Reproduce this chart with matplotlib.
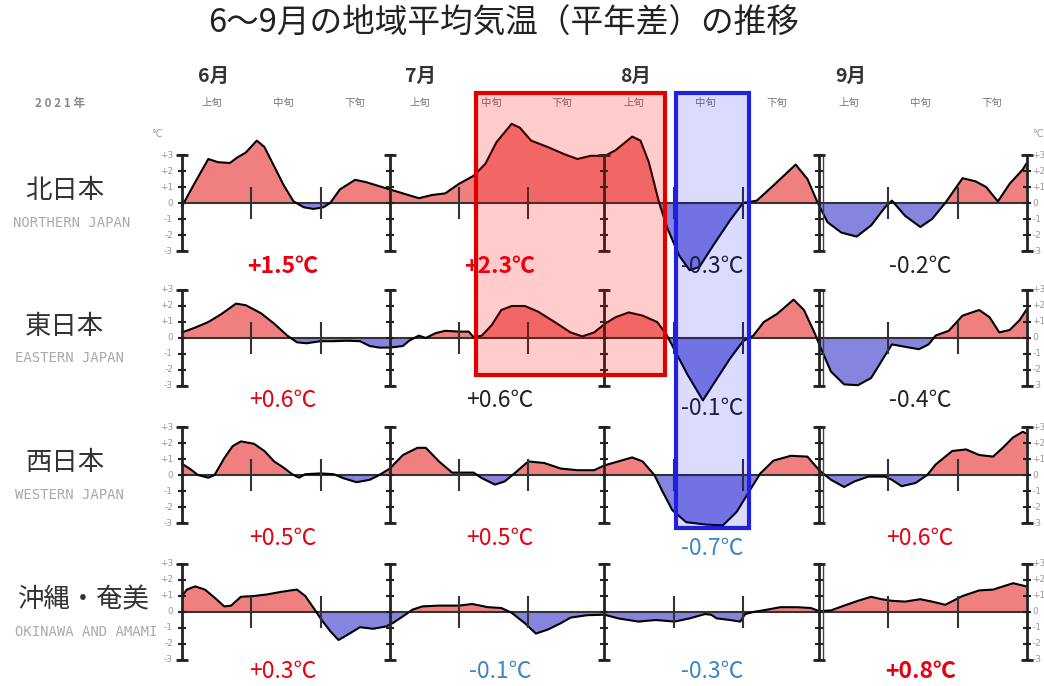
import numpy as np
import matplotlib
matplotlib.use("Agg")
import matplotlib.pyplot as plt
from matplotlib.patches import Rectangle

plt.rcParams['font.family'] = ['Noto Sans CJK JP', 'DejaVu Sans']

# days counted from June 1 (0) to Oct 1 (122)
north_days = [0, 1.9, 3.8, 5.2, 6.9, 8, 9.2, 10.8, 11.9, 13.3,
              14.7, 16.1, 17.6, 19, 20.4, 21.4, 22.8, 25, 26.6, 28.5,
              30, 31.9, 34.2, 36.1, 38, 40, 42.1, 43.8, 45.4, 47.6,
              48.8, 50.4, 52.8, 55.2, 57.1, 59, 61.1, 62.6, 65, 66.2,
              67.4, 68.9, 70.1, 71.8, 73.3, 74.7, 76.7, 79.1, 81, 83,
              85.4, 88.6, 90.3, 91.8, 93.2, 95.2, 97.4, 99.5, 101.5, 102.5,
              104.4, 106.6, 108.3, 110.2, 112.7, 114.6, 116.1, 117.8, 119.5, 121.4,
              121.9]
north_vals = [-0.2, 1.3, 2.75, 2.55, 2.5, 2.85, 3.15, 3.9, 3.5, 2.3,
              1.1, 0.1, -0.27, -0.37, -0.27, 0, 0.85, 1.45, 1.3, 1.05,
              0.85, 0.6, 0.3, 0.5, 0.6, 1.2, 1.7, 2.45, 3.8, 4.95,
              4.7, 3.9, 3.5, 3.05, 2.75, 2.95, 2.95, 3.3, 4.15, 3.9,
              2.55, 0, -1.6, -3.3, -4.2, -4.0, -2.65, -1.1, 0, 0.15,
              1.1, 2.4, 1.5, 0, -1.2, -1.85, -2.1, -1.4, -0.27, 0.15,
              -0.8, -1.5, -1.0, 0, 1.55, 1.35, 1.0, 0.1, 1.2, 2.1,
              2.45]

east_days = [0, 1.9, 3.8, 5.7, 7.8, 9.2, 11.4, 13.3, 15.2, 16.6,
             18, 20, 21.9, 23.8, 25.7, 27.1, 28.5, 30, 31.9, 32.8,
             34.2, 35.2, 36.6, 38, 40, 41.4, 42.1, 43.3, 44.7, 46.1,
             47.6, 49.5, 51.4, 53.8, 56.1, 57.8, 59.5, 61.1, 62.6, 64.5,
             66.5, 68.6, 69.9, 71.3, 73, 75.2, 76.7, 79.1, 81, 82.5,
             84, 85.9, 88.3, 89.8, 91.3, 92.2, 93.7, 95.6, 97.6, 99.5,
             101, 102.5, 104.4, 106.4, 107.8, 108.8, 110.7, 112.7, 115.1, 116.6,
             118, 119.5, 120.9, 121.9]
east_vals = [0.35, 0.65, 1.0, 1.5, 2.15, 2.05, 1.55, 0.9, 0.15, -0.27,
             -0.33, -0.2, -0.2, -0.17, -0.2, -0.5, -0.6, -0.6, -0.5, -0.17,
             0.15, 0, 0.3, 0.45, 0.4, 0.4, 0.05, 0.15, 0.8, 1.75,
             2.0, 2.0, 1.65, 1.0, 0.35, 0.1, 0.35, 0.9, 1.3, 1.6,
             1.4, 1.0, 0.25, -0.9, -2.3, -3.9, -2.9, -1.3, -0.2, 0.15,
             1.0, 1.5, 2.4, 1.75, 0.35, -0.6, -2.1, -2.9, -2.95, -2.5,
             -1.45, -0.4, -0.55, -0.7, -0.4, 0.15, 0.45, 1.4, 1.75, 1.3,
             0.35, 0.5, 1.1, 1.75]

west_days = [0, 1.1, 2.3, 3.8, 4.7, 6.1, 7.3, 8.5, 10.4, 11.9,
             13.3, 14.7, 15.9, 16.9, 17.8, 20, 21.9, 23.3, 25.2, 27.1,
             28.5, 30, 31.9, 34, 35.2, 37.1, 39, 40.9, 42.1, 43.3,
             45.2, 46.6, 48, 50, 52.3, 54.7, 57.1, 59.5, 61, 63,
             65, 66.5, 68.2, 69.4, 70.8, 72.8, 75.7, 78.1, 80.1, 82,
             83.5, 85.4, 87.9, 90.3, 92, 93.7, 95.6, 97.1, 99.1, 101.5,
             102.5, 103.9, 105.9, 107.6, 108.8, 111.2, 113.2, 115.1, 117.1, 118.5,
             120, 121.4, 121.9]
west_vals = [0.7, 0.4, 0, -0.17, 0, 1.05, 1.8, 2.1, 1.95, 1.5,
             0.85, 0.45, 0.05, -0.17, 0.05, 0.1, 0.05, -0.2, -0.45, -0.3,
             0, 0.4, 1.25, 1.7, 1.7, 0.85, 0.15, 0.15, 0.15, -0.2,
             -0.6, -0.4, 0.1, 0.85, 0.75, 0.4, 0.3, 0.3, 0.6, 0.85,
             1.1, 0.85, 0, -1.05, -2.2, -2.95, -3.1, -3.15, -2.3, -0.95,
             0.1, 0.9, 1.2, 1.15, 0.3, -0.3, -0.75, -0.4, -0.1, -0.1,
             -0.3, -0.7, -0.5, 0, 0.65, 1.5, 1.6, 1.25, 1.15, 1.7,
             2.35, 2.7, 2.6]

okinawa_days = [0, 0.7, 1.9, 3.3, 4.7, 6.1, 7.1, 8.5, 10.4, 12.3,
                14.2, 15.7, 16.6, 17.8, 19, 20, 21.4, 22.6, 23.8, 25.7,
                27.6, 29.5, 30.4, 31.9, 33.3, 34.7, 37.1, 40, 41.9, 44.2,
                46.1, 47.6, 49.5, 51.1, 52.8, 54.7, 56.1, 58.5, 61, 63,
                65.9, 68.4, 71.1, 73.3, 75.5, 76.4, 77.2, 79.1, 80.6, 81.3,
                82.5, 84.5, 86.4, 88.8, 90.8, 92, 93.7, 95.6, 97.6, 99.5,
                101, 102.5, 104.4, 106.6, 108.3, 110.2, 112.7, 115.1, 117.1, 120,
                121.9]
okinawa_vals = [1.0, 1.4, 1.6, 1.4, 0.9, 0.35, 0.4, 0.95, 1.0, 1.1,
                1.25, 1.35, 1.4, 1.0, 0.25, -0.4, -1.2, -1.75, -1.45, -0.95,
                -1.05, -0.9, -0.7, -0.27, 0.15, 0.35, 0.4, 0.4, 0.5, 0.3,
                0.25, -0.05, -0.7, -1.35, -1.1, -0.7, -0.35, -0.2, -0.17, -0.4,
                -0.6, -0.5, -0.6, -0.4, -0.13, -0.17, -0.4, -0.5, -0.6, -0.13,
                0, 0.15, 0.3, 0.3, 0.25, 0.05, 0.1, 0.4, 0.7, 0.95,
                0.8, 0.7, 0.65, 0.8, 0.65, 0.45, 1.0, 1.35, 1.4, 1.8,
                1.6]

region_names = ['北日本', '東日本', '西日本', '沖縄・奄美']
region_names_en = ['NORTHERN JAPAN', 'EASTERN JAPAN', 'WESTERN JAPAN', 'OKINAWA AND AMAMI']
series = [(north_days, north_vals), (east_days, east_vals),
          (west_days, west_vals), (okinawa_days, okinawa_vals)]

month_labels = ['6月', '7月', '8月', '9月']
month_starts = [0, 30, 61, 92, 122]
dekad_bounds = [10, 20, 40, 50, 71, 81, 102, 112]
dekad_names = ['上旬', '中旬', '下旬']

monthly_anom = [['+1.5℃', '+2.3℃', '-0.3℃', '-0.2℃'],
                ['+0.6℃', '+0.6℃', '-0.1℃', '-0.4℃'],
                ['+0.5℃', '+0.5℃', '-0.7℃', '+0.6℃'],
                ['+0.3℃', '-0.1℃', '-0.3℃', '+0.8℃']]

RED = '#e60012'
BLUE = '#3d85c6'
BLK = '#222222'
anom_color = [[RED, RED, BLK, BLK],
              [RED, BLK, BLK, BLK],
              [RED, RED, BLUE, RED],
              [RED, BLUE, BLUE, RED]]
anom_bold = [[True, True, False, False],
             [False, False, False, False],
             [False, False, False, False],
             [False, False, False, True]]
anom_y = [[-3.95, -3.95, -3.95, -3.95],
          [-3.9, -3.9, -4.4, -3.9],
          [-3.95, -3.95, -4.6, -3.95],
          [-3.75, -3.75, -3.75, -3.75]]
anom_x = [14.6, 45.9, 76.5, 106.6]

W, H = 1044, 686
fig = plt.figure(figsize=(W / 100, H / 100), dpi=100)
fig.patch.set_facecolor('white')

px_per_day = 6.926
px_per_deg = 16.0
x0 = 182
xlim = (-x0 / px_per_day, (W - x0) / px_per_day)
row_base = [203, 338, 475, 612]
half = 6.0

axes = []
for i, base in enumerate(row_base):
    bottom = 1 - (base + half * px_per_deg) / H
    ax = fig.add_axes([0, bottom, 1, 2 * half * px_per_deg / H])
    ax.set_xlim(*xlim)
    ax.set_ylim(-half, half)
    ax.axis('off')
    ax.patch.set_alpha(0)
    axes.append(ax)

for i, ax in enumerate(axes):
    d = np.array(series[i][0])
    v = np.array(series[i][1])
    ax.fill_between(d, v, 0, where=v >= 0, interpolate=True, color='#f08080', lw=0, zorder=1)
    ax.fill_between(d, v, 0, where=v <= 0, interpolate=True, color='#8585e0', lw=0, zorder=1)
    ax.hlines(0, 0, 122, color='#333333', lw=1.5, zorder=2)
    ax.plot(d, v, color='black', lw=1.5, zorder=3, solid_joinstyle='round')

    # month axes with degree ticks
    ax.vlines(month_starts, -3, 3, color='#222222', lw=2, zorder=4)
    ax.vlines([92.5], -3, 3, color='#444444', lw=1, zorder=4)
    for m in month_starts:
        ax.plot([m] * 7, np.arange(-3, 4), ls='none', marker='_', ms=6, mew=1.5,
                color='#222222', zorder=4)
        ax.plot([m, m], [-3, 3], ls='none', marker='_', ms=9, mew=2,
                color='#222222', zorder=4)
    ax.vlines(dekad_bounds, -1, 1, color='#333333', lw=1.5, zorder=4)

    for lv in range(-3, 4):
        lab = '0' if lv == 0 else f'{lv:+d}'
        ax.text(-1.3, lv, lab, ha='right', va='center', fontsize=6.5,
                color='#999999', family='DejaVu Sans')
        ax.text(122.8, lv, lab, ha='left', va='center', fontsize=6.5,
                color='#999999', family='DejaVu Sans')

    # region label
    lx = -14.2 if i == 3 else -16.9
    ax.text(lx, 0.75, region_names[i], ha='center', va='center', fontsize=19,
            color='#333333')
    ex = [-15.9, -16.2, -16.2, -13.8][i]
    ax.text(ex, -1.25, region_names_en[i], ha='center', va='center',
            fontsize=10, color='#aaaaaa', family='DejaVu Sans Mono')

    # monthly mean anomalies
    for j in range(4):
        ax.text(anom_x[j], anom_y[i][j], monthly_anom[i][j], ha='center', va='center',
                fontsize=16.5, color=anom_color[i][j],
                fontweight='bold' if anom_bold[i][j] else 'normal', zorder=6)

top = axes[0]
top.set_zorder(10)
top.text(-3.6, 4.3, '°C', ha='center', va='center', fontsize=7, color='#999999',
         family='DejaVu Sans')
top.text(122.8, 4.3, '°C', ha='left', va='center', fontsize=7, color='#999999',
         family='DejaVu Sans')
top.text(-17.6, 6.25, '2 0 2 1 年', ha='center', va='center', fontsize=8.5,
         color='#888888', fontweight='bold')

for k, m in enumerate(month_starts[:4]):
    top.text(m + 4.5, 7.9, month_labels[k], ha='center', va='center', fontsize=14,
             fontweight='bold', color='#333333')
    for s in range(3):
        top.text(m + 4.3 + 10.3 * s, 6.25, dekad_names[s], ha='center', va='center',
                 fontsize=7.5, color='#777777')

# highlight boxes
top.add_patch(Rectangle((42.5, -10.75), 27.2, 17.65, facecolor=(1, 0, 0, 0.2),
                        edgecolor='#e00000', lw=3, clip_on=False, zorder=8))
top.add_patch(Rectangle((71.3, -20.3), 10.6, 27.2, facecolor=(0, 0, 1, 0.14),
                        edgecolor='#2020e0', lw=3, clip_on=False, zorder=8))

fig.text(0.482, 0.965, '6～9月の地域平均気温（平年差）の推移', ha='center', va='center',
         fontsize=23.5, color='#222222')

fig.savefig('out.png', dpi=100)
